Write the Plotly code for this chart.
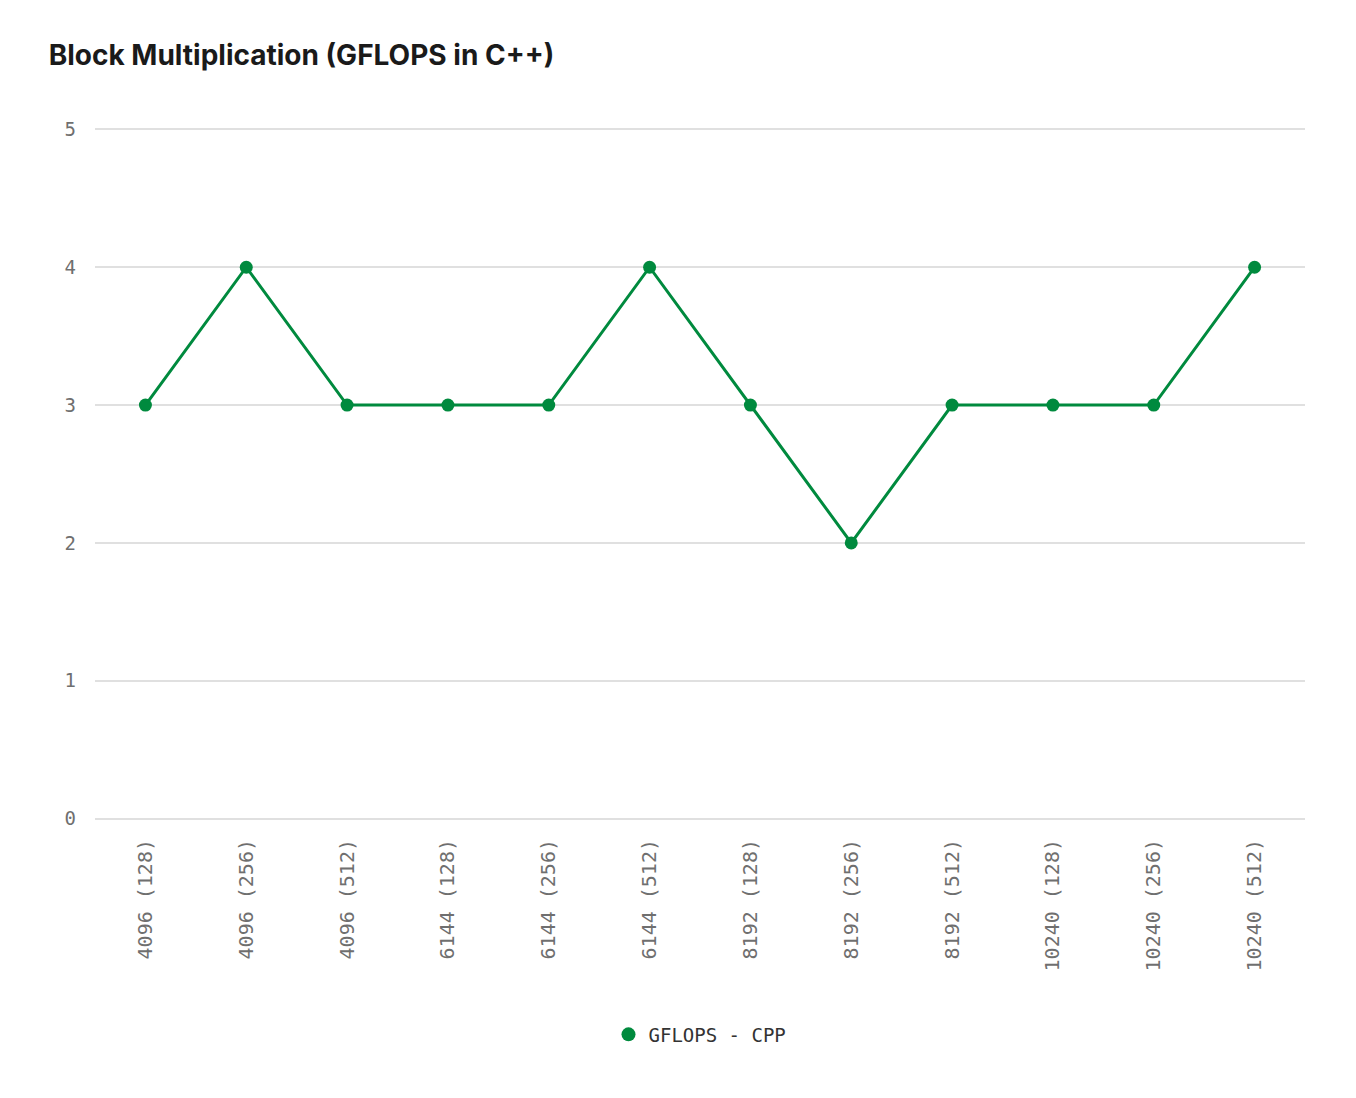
import plotly.graph_objects as go

categories = ["4096 (128)", "4096 (256)", "4096 (512)", "6144 (128)", "6144 (256)",
              "6144 (512)", "8192 (128)", "8192 (256)", "8192 (512)", "10240 (128)",
              "10240 (256)", "10240 (512)"]
gflops = [3, 4, 3, 3, 3, 4, 3, 2, 3, 3, 3, 4]

green = "#008A3E"
mono = "DejaVu Sans Mono, Liberation Mono"

fig = go.Figure()
fig.add_trace(go.Scatter(x=categories, y=gflops, mode="lines+markers",
                         showlegend=False,
                         line=dict(color=green, width=3),
                         marker=dict(color=green, size=13)))
# legend entry: dot only
fig.add_trace(go.Scatter(x=[None], y=[None], mode="markers", name="GFLOPS - CPP",
                         marker=dict(color=green, size=14)))

fig.update_layout(
    width=1356, height=1098,
    paper_bgcolor="white", plot_bgcolor="white",
    margin=dict(l=87, r=59, t=120, b=286),
    title=dict(text="<b>Block Multiplication (GFLOPS in C++)</b>", x=0.03, xanchor="left",
               y=0.957, yanchor="middle",
               font=dict(family="Inter, Noto Sans", size=28, color="#1a1a1a")),
    xaxis=dict(type="category", tickangle=-90, showgrid=False, showline=False,
               range=[-0.5, 11.5], ticks="", ticklabelstandoff=14,
               tickfont=dict(family=mono, size=20, color="#6f6f6f")),
    yaxis=dict(range=[-0.01, 5.01], tickvals=[0, 1, 2, 3, 4, 5], showgrid=True,
               gridcolor="#e0e0e0", gridwidth=1.5,
               zeroline=True, zerolinecolor="#e0e0e0", zerolinewidth=1.5,
               ticks="", ticklabelstandoff=18,
               tickfont=dict(family=mono, size=19, color="#6f6f6f")),
    showlegend=True,
    legend=dict(orientation="h", x=0.5, xanchor="center", y=-0.31, yanchor="middle",
                font=dict(family=mono, size=19, color="#333")),
)

fig.write_html("out.html")
